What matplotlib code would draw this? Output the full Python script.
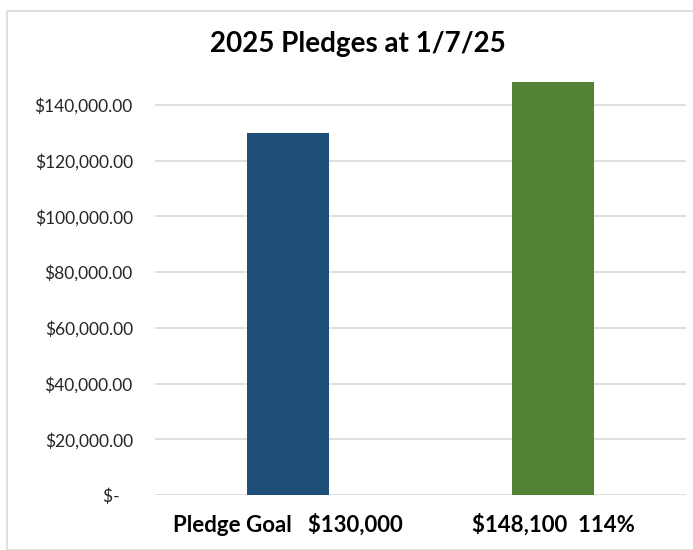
import matplotlib
matplotlib.use('Agg')
import matplotlib.pyplot as plt
from matplotlib.patches import Rectangle
from matplotlib.ticker import FuncFormatter

# data
categories = ["Pledge Goal   $130,000", "$148,100  114%"]
values = [130000, 148100]
colors = ["#1f4e79", "#548235"]
yticks = [0, 20000, 40000, 60000, 80000, 100000, 120000, 140000]

plt.rcParams['font.family'] = ['Lato', 'DejaVu Sans']

fig = plt.figure(figsize=(6.93, 5.5), dpi=100)
ax = fig.add_axes([0.2237, 0.1, 0.7663, 0.7598])

# chart border like the Excel chart area
fig.patches.append(Rectangle((7 / 693, 0.0), 1.0, 1 - 11 / 550, transform=fig.transFigure,
                             fill=False, edgecolor="#d9d9d9", linewidth=1.2))

x = range(len(categories))
ax.bar(x, values, width=0.31, color=colors, zorder=3)

ax.set_xlim(-0.5, 1.5)
ax.set_ylim(0, 150000)
ax.set_yticks(yticks)


def money(v, pos):
    if v == 0:
        return "$-   "
    return "${:,.2f}".format(v)


ax.yaxis.set_major_formatter(FuncFormatter(money))
ax.grid(axis='y', color="#d9d9d9", linewidth=1.2, zorder=0)
for s in ax.spines.values():
    s.set_visible(False)
ax.tick_params(axis='y', length=0, pad=16, labelsize=12.5, labelcolor="#262626")
ax.tick_params(axis='x', length=0, pad=13)
ax.set_xticks(list(x))
ax.set_xticklabels(categories, fontsize=16, fontweight='bold', color="black")

fig.text(0.517, 0.92, "2025 Pledges at 1/7/25", ha='center', va='center',
         fontsize=20, fontweight='bold')

fig.savefig("out.png", dpi=100)
